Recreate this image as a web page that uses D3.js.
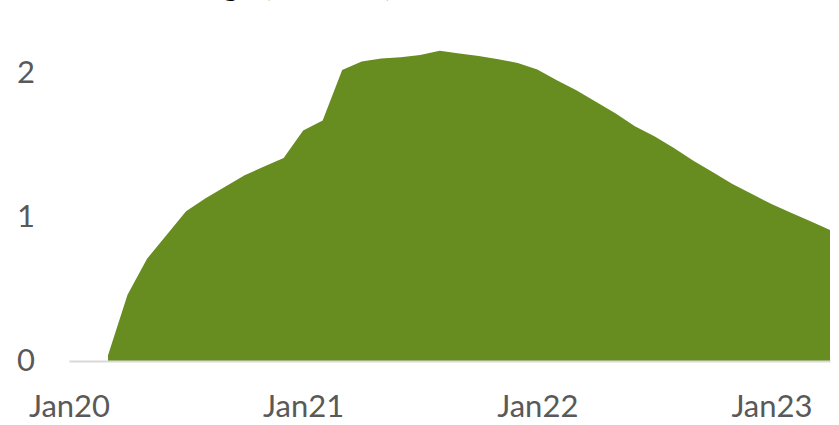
<!DOCTYPE html>
<html>
<head>
<meta charset="utf-8">
<script src="https://cdn.jsdelivr.net/npm/d3@7"></script>
<style>
  html, body { margin: 0; padding: 0; background: #ffffff; }
  svg { display: block; }
</style>
</head>
<body>
<svg id="chart" width="839" height="425"></svg>
<script>
// ---- data ----
const months = [
  "Jan20","Feb20","Mar20","Apr20","May20","Jun20","Jul20","Aug20","Sep20","Oct20","Nov20","Dec20",
  "Jan21","Feb21","Mar21","Apr21","May21","Jun21","Jul21","Aug21","Sep21","Oct21","Nov21","Dec21",
  "Jan22","Feb22","Mar22","Apr22","May22","Jun22","Jul22","Aug22","Sep22","Oct22","Nov22","Dec22",
  "Jan23","Feb23","Mar23","Apr23"
];
const values = [
  null, null, 0.04, 0.46, 0.71, 0.875, 1.04, 1.13, 1.21, 1.29, 1.35, 1.41,
  1.60, 1.67, 2.02, 2.08, 2.10, 2.11, 2.125, 2.155, 2.136, 2.118, 2.095, 2.07,
  2.025, 1.95, 1.88, 1.80, 1.72, 1.63, 1.56, 1.48, 1.39, 1.31, 1.23, 1.16,
  1.09, 1.03, 0.97, 0.91
];
const xTickLabels = ["Jan20", "Jan21", "Jan22", "Jan23"];
const yTickValues = [0, 1, 2];
const titleText = "Excess savings (trillions)";

// ---- layout ----
const svg = d3.select("#chart");
const x = d3.scalePoint().domain(months).range([69, 830]);
const y = d3.scaleLinear().domain([0, 2]).range([361, 73]);

const data = months.map((m, i) => ({ m, v: values[i] }));

// area
const area = d3.area()
  .defined(d => d.v !== null)
  .x(d => x(d.m))
  .y0(y(0))
  .y1(d => y(d.v));

svg.append("path")
  .datum(data)
  .attr("d", area)
  .attr("fill", "#678c1f");

// x axis
const xAxis = d3.axisBottom(x)
  .tickValues(xTickLabels)
  .tickSize(0)
  .tickPadding(34);
const gx = svg.append("g")
  .attr("transform", `translate(0,${y(0)})`)
  .call(xAxis);
gx.select(".domain").attr("stroke", "#d9d9d9").attr("stroke-width", 2);
gx.selectAll("text")
  .attr("font-family", "Lato, 'Open Sans', sans-serif")
  .attr("font-size", 31)
  .attr("fill", "#595959");

// y axis (labels only)
const yAxis = d3.axisLeft(y)
  .tickValues(yTickValues)
  .tickFormat(d3.format("d"))
  .tickSize(0)
  .tickPadding(34);
const gy = svg.append("g")
  .attr("transform", `translate(69,0)`)
  .call(yAxis);
gy.select(".domain").remove();
gy.selectAll("text")
  .attr("font-family", "Lato, 'Open Sans', sans-serif")
  .attr("font-size", 31)
  .attr("fill", "#595959");

// title (mostly cut off above the picture, as in the reference)
const title = svg.append("text")
  .attr("font-family", "Lato, 'Open Sans', sans-serif")
  .attr("font-weight", "bold")
  .attr("font-size", 34)
  .attr("fill", "#000000")
  .attr("y", -5)
  .text(titleText);
const pIdx = titleText.indexOf("(");
const pre = title.node().getSubStringLength(0, pIdx);
title.attr("x", 263 - pre);
</script>
</body>
</html>
